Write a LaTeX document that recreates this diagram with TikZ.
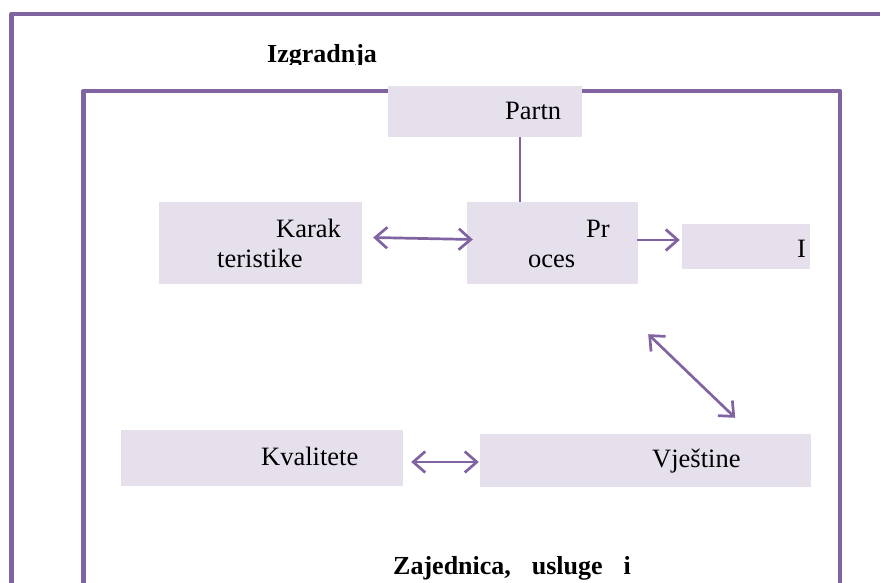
\documentclass[tikz,border=0pt]{standalone}
\usepackage{fontspec}
\setmainfont{Liberation Serif}
\usetikzlibrary{arrows.meta,calc}
\definecolor{framepurple}{HTML}{8064A2}
\definecolor{boxfill}{HTML}{E5E0EC}
\tikzset{
  frame/.style={draw=framepurple,line width=4.5pt,line join=round,line cap=round},
  pbox/.style={fill=boxfill,draw=none,rectangle,inner sep=0pt},
  txt/.style={anchor=base west,inner sep=0pt,font=\fontsize{26.5}{30}\selectfont},
  btxt/.style={anchor=base west,inner sep=0pt,font=\fontsize{26}{30}\selectfont\bfseries},
  conn/.style={draw=framepurple,line width=2.7pt},
  dbl/.style={conn,{Straight Barb[length=12pt,width=21pt]}-{Straight Barb[length=12pt,width=21pt]}},
  sgl/.style={conn,-{Straight Barb[length=12pt,width=21pt]}}
}
\begin{document}
\begin{tikzpicture}[x=1pt,y=-1pt]
\useasboundingbox (0,0) rectangle (880,583);
\clip (0,0) rectangle (880,583);
% frames
\draw[frame] (11.5,600) -- (11.5,14) -- (900,14);
\draw[frame] (83.5,600) -- (83.5,91) -- (840,91) -- (840,600);
% title (cut at the bottom as in the original)
\begin{scope}
\clip (200,30) rectangle (450,64.5);
\node[btxt] (izg) at (267,62.5) {Izgradnja};
\end{scope}
% boxes
\node[pbox,minimum width=194pt,minimum height=51pt] (partn) at (485,111.5) {};
\node[pbox,minimum width=203pt,minimum height=82pt] (karak) at (260.5,243) {};
\node[pbox,minimum width=171pt,minimum height=82pt] (proces) at (552.5,243) {};
\node[pbox,minimum width=128pt,minimum height=45pt] (ibox) at (746,246.5) {};
\node[pbox,minimum width=282pt,minimum height=56pt] (kval) at (262,458) {};
\node[pbox,minimum width=331pt,minimum height=53pt] (vjest) at (645.5,460.5) {};
% texts
\node[txt] (tpartn) at (505,120) {Partn};
\node[txt] (tkarak1) at (276,237) {Karak};
\node[txt] (tkarak2) at (217,267.5) {teristike};
\node[txt] (tpr) at (586,237) {Pr};
\node[txt] (toces) at (528,267.5) {oces};
\node[txt] (ti) at (797,257.5) {I};
\node[txt] (tkval) at (261,465) {Kvalitete};
\node[txt] (tvjest) at (652,467) {Vještine};
\node[btxt] (zaj) at (393,574) {Zajednica,\hspace{21pt}usluge\hspace{21pt}i};
% connectors
\draw[conn] ($(partn.south)+(35,0)$) -- ($(proces.north)+(-32.5,0)$);
\draw[dbl] ($(karak.east)+(11,-5.5)$) -- ($(proces.west)+(6,-3.5)$);
\draw[sgl] ($(proces.east)+(-1,-3)$) -- ($(ibox.west)+(-2,-6.5)$);
\draw[dbl] ($(proces.south east)+(10,50)$) -- ($(vjest.north east)+(-76,-16)$);
\draw[dbl] ($(kval.east)+(8,4)$) -- ($(vjest.west)+(-1,1.5)$);
\end{tikzpicture}
\end{document}
